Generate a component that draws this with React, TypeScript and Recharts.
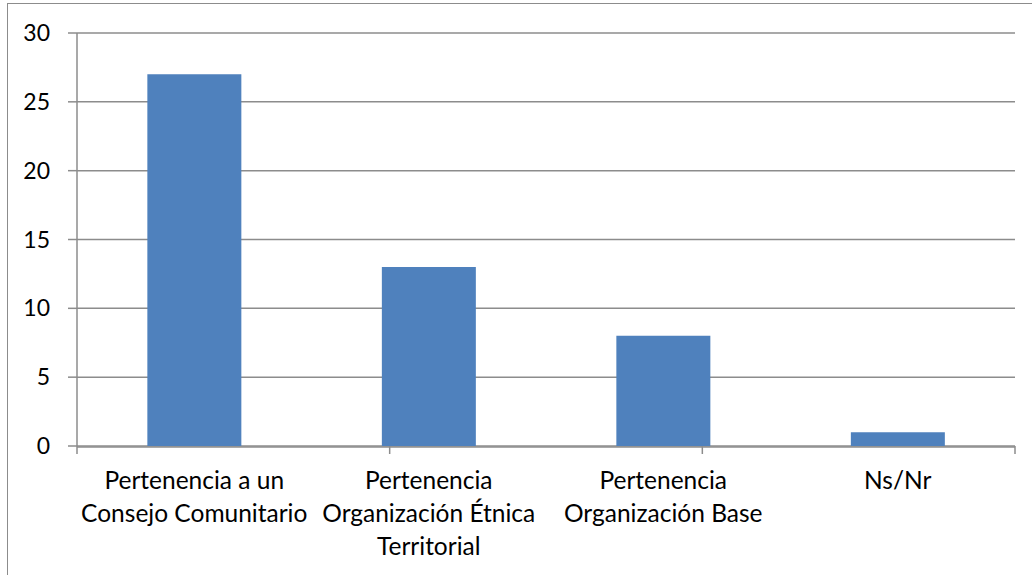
import { Bar, BarChart, CartesianGrid, XAxis, YAxis } from "recharts";

const categories = [
  "Pertenencia a un\nConsejo Comunitario",
  "Pertenencia\nOrganización Étnica\nTerritorial",
  "Pertenencia\nOrganización Base",
  "Ns/Nr",
];
const values = [27, 13, 8, 1];
const yTicks = [0, 5, 10, 15, 20, 25, 30];
const boundaryTicks = [0, 1, 2, 3, 4];

const data = categories.map((name, i) => ({ name, value: values[i] }));

const FONT = "Lato, 'Open Sans', sans-serif";
const GRID = "#8c8c8c";

function CategoryTick({ x, y, payload }: any) {
  const lines = String(payload.value).split("\n");
  return (
    <text x={x} y={y} textAnchor="middle" fill="#000" fontFamily={FONT} fontSize={24.5}>
      {lines.map((line, i) => (
        <tspan key={i} x={x} dy={i === 0 ? 34 : 33}>
          {line}
        </tspan>
      ))}
    </text>
  );
}

const EmptyTick = () => <g />;

export default function App() {
  return (
    <div style={{ position: "absolute", left: 0, top: 0, width: 1032, height: 575, overflow: "hidden", background: "#fff" }}>
      <div
        style={{
          position: "absolute",
          left: 7,
          top: 3,
          width: 1100,
          height: 700,
          border: "1.5px solid #8c8c8c",
        }}
      />
      <div style={{ position: "absolute", left: 0, top: 0 }}>
        <BarChart
          width={1032}
          height={575}
          data={data}
          margin={{ top: 33, right: 17, left: 0, bottom: 0 }}
          barCategoryGap="30%"
        >
          <CartesianGrid vertical={false} stroke={GRID} strokeWidth={1.5} xAxisId="cat" />
          <XAxis
            type="number"
            scale="linear"
            domain={[0, 4]}
            allowDataOverflow
            ticks={boundaryTicks}
            interval={0}
            height={1}
            axisLine={false}
            tick={<EmptyTick />}
            tickSize={8}
            tickLine={{ stroke: GRID, strokeWidth: 1.5 }}
          />
          <XAxis
            xAxisId="cat"
            dataKey="name"
            interval={0}
            height={128}
            axisLine={{ stroke: GRID, strokeWidth: 1.5 }}
            tickLine={false}
            tick={<CategoryTick />}
          />
          <YAxis
            width={77}
            domain={[0, 30]}
            ticks={yTicks}
            interval={0}
            axisLine={{ stroke: GRID, strokeWidth: 1.5 }}
            tickLine={{ stroke: GRID, strokeWidth: 1.5 }}
            tickSize={9}
            tickMargin={18}
            tick={{ fill: "#000", fontSize: 23, fontFamily: FONT }}
          />
          <Bar dataKey="value" xAxisId="cat" fill="#4f81bd" isAnimationActive={false} />
        </BarChart>
      </div>
    </div>
  );
}
